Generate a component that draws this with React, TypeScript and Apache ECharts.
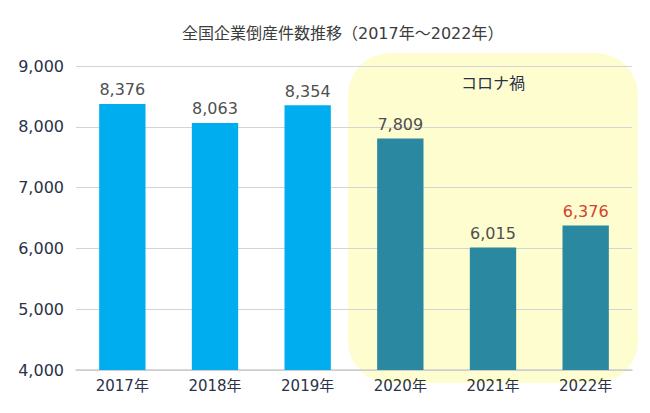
import React, { useEffect, useRef } from "react";
import * as echarts from "echarts";

const title = "全国企業倒産件数推移（2017年〜2022年）";
const categories = ["2017年", "2018年", "2019年", "2020年", "2021年", "2022年"];
const values = [8376, 8063, 8354, 7809, 6015, 6376];
const covidFlags = [false, false, false, true, true, true];
const highlightLabel = "コロナ禍";
const yTicks = { min: 4000, max: 9000, interval: 1000 };

const FONT = "'DejaVu Sans', 'Noto Sans CJK JP', sans-serif";

export default function App() {
  const ref = useRef<HTMLDivElement>(null);
  useEffect(() => {
    if (!ref.current) return;
    const chart = echarts.init(ref.current, undefined, { renderer: "svg" });
    const data = values.map((v, i) => ({
      value: v,
      itemStyle: { color: covidFlags[i] ? "#2a88a0" : "#00aeef" },
      label: i === values.length - 1 ? { color: "#d6402b" } : undefined,
    }));
    chart.setOption({
      animation: false,
      backgroundColor: "#ffffff",
      title: {
        text: title,
        left: 177,
        top: 20,
        textStyle: { fontFamily: FONT, fontSize: 16, fontWeight: "normal", color: "#3c3c3c" },
      },
      grid: { left: 76, right: 18, top: 66, bottom: 43, containLabel: false },
      graphic: [
        {
          type: "rect",
          z: -10,
          shape: { x: 348, y: 53, width: 290, height: 330, r: 42 },
          style: { fill: "#fdfdd0" },
        },
        {
          type: "text",
          z: 10,
          x: 493,
          y: 83,
          style: {
            text: highlightLabel,
            fontFamily: FONT,
            fontSize: 16,
            fill: "#2a3248",
            align: "center",
            verticalAlign: "middle",
          },
        },
      ],
      xAxis: {
        type: "category",
        data: categories,
        axisTick: { show: false },
        axisLine: { lineStyle: { color: "#cccccc", width: 1.5 } },
        axisLabel: { fontFamily: FONT, fontSize: 15, color: "#2a3248", margin: 8 },
      },
      yAxis: {
        type: "value",
        min: yTicks.min,
        max: yTicks.max,
        interval: yTicks.interval,
        axisLine: { show: false },
        axisTick: { show: false },
        splitLine: { lineStyle: { color: "#d4d4d4", width: 1 } },
        axisLabel: {
          fontFamily: FONT,
          fontSize: 16,
          color: "#2a3248",
          margin: 12,
          formatter: (v: number) => v.toLocaleString("en-US"),
        },
      },
      series: [
        {
          type: "bar",
          data,
          barWidth: "50%",
          label: {
            show: true,
            position: "top",
            distance: 6,
            fontFamily: FONT,
            fontSize: 16,
            color: "#4f4f4f",
            formatter: (p: any) => Number(p.value).toLocaleString("en-US"),
          },
        },
      ],
    });
    return () => chart.dispose();
  }, []);
  return <div ref={ref} style={{ width: 650, height: 413, position: "absolute", left: 0, top: 0 }} />;
}
